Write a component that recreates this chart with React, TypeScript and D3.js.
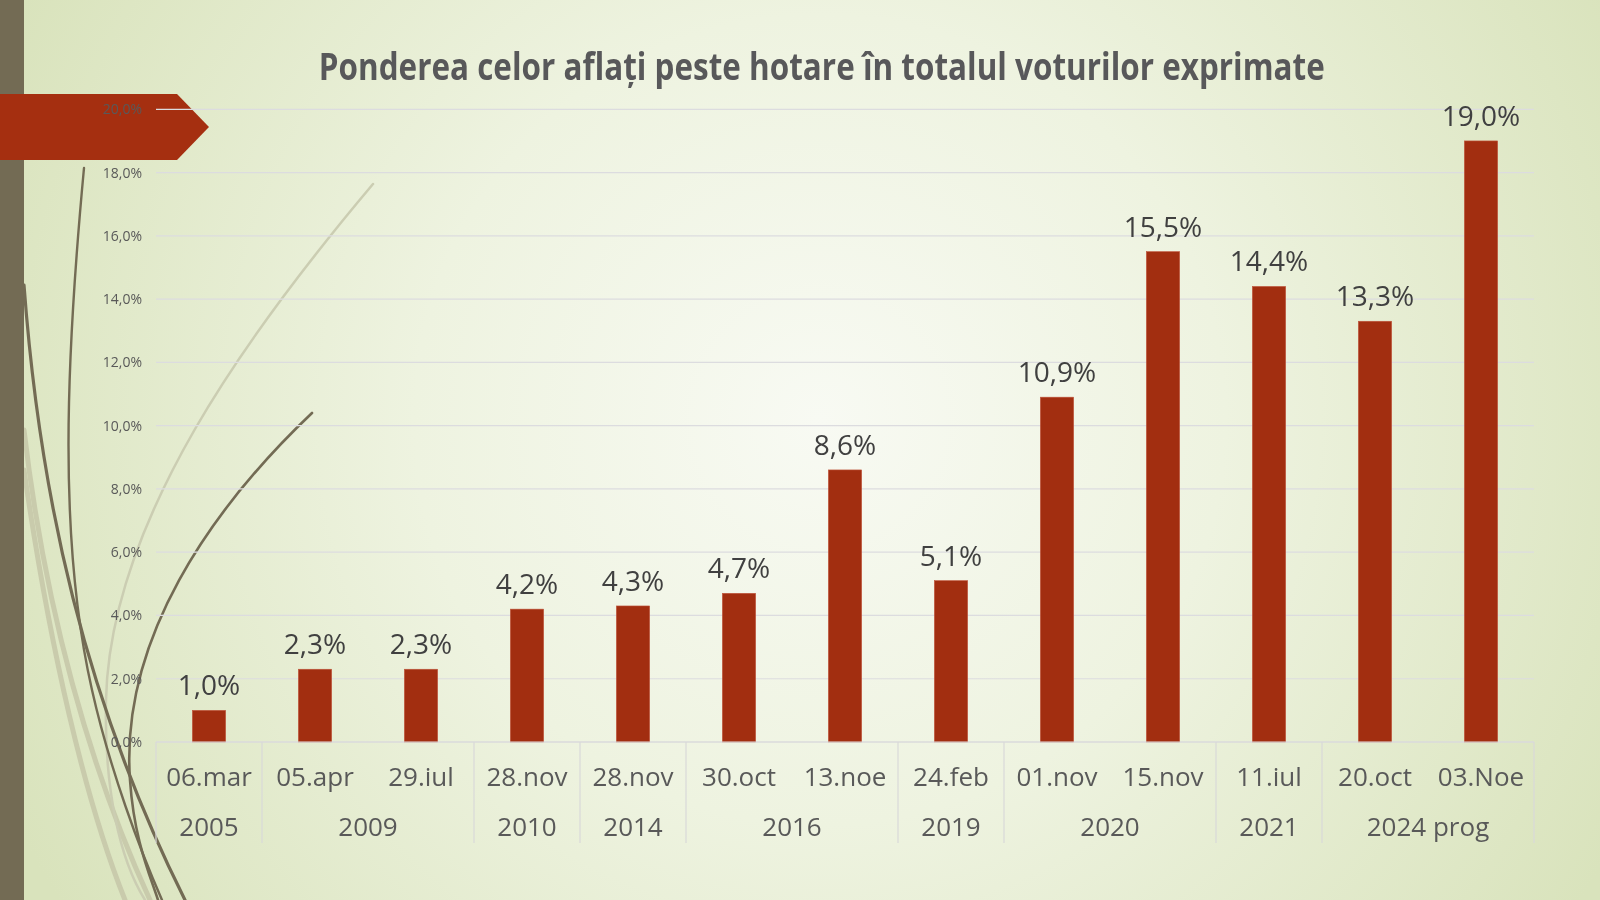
import React from "react";
import * as d3 from "d3";

const TITLE = "Ponderea celor aflați peste hotare în totalul voturilor exprimate";
const dates = ["06.mar", "05.apr", "29.iul", "28.nov", "28.nov", "30.oct", "13.noe", "24.feb", "01.nov", "15.nov", "11.iul", "20.oct", "03.Noe"];
const years = ["2005", "2009", "2009", "2010", "2014", "2016", "2016", "2019", "2020", "2020", "2021", "2024 prog", "2024 prog"];
const values = [1.0, 2.3, 2.3, 4.2, 4.3, 4.7, 8.6, 5.1, 10.9, 15.5, 14.4, 13.3, 19.0];
const yTicks = [0, 2, 4, 6, 8, 10, 12, 14, 16, 18, 20];

const W = 1600;
const H = 900;
const X0 = 156;
const X1 = 1534;
const Y0 = 742;
const Y1 = 109.3;
const FONT = "'Open Sans', 'DejaVu Sans', sans-serif";

const fmt = (v: number) => v.toFixed(1).replace(".", ",") + "%";

export default function App() {
  const idx = dates.map((_, i) => String(i));
  const band = d3.scaleBand<string>().domain(idx).range([X0, X1]).paddingInner(0.686).paddingOuter(0.343);
  const cat = d3.scaleBand<string>().domain(idx).range([X0, X1]).padding(0);
  const y = d3.scaleLinear().domain([0, 20]).range([Y0, Y1]);

  // year groups
  const groups: { name: string; start: number; end: number }[] = [];
  years.forEach((yr, i) => {
    const last = groups[groups.length - 1];
    if (last && last.name === yr) last.end = i;
    else groups.push({ name: yr, start: i, end: i });
  });
  const step = cat.step();
  const boundaries = [X0, ...groups.map((g) => (cat(String(g.end)) as number) + step)];

  const arrowPts = "0,94 177,94 209,127 177,160 0,160";

  return (
    <svg width={W} height={H} style={{ position: "fixed", left: 0, top: 0, display: "block" }}>
      <defs>
        <radialGradient id="bg" gradientUnits="userSpaceOnUse" cx={820} cy={420} r={900}>
          <stop offset="0" stopColor="#f8faf3" />
          <stop offset="0.45" stopColor="#eef3e0" />
          <stop offset="1" stopColor="#d9e3bc" />
        </radialGradient>
      </defs>
      <rect x={0} y={0} width={W} height={H} fill="url(#bg)" />

      {/* decorative curves */}
      <g fill="none" strokeLinecap="round">
        <path d="M24,470 C50,650 85,800 125,900" stroke="#c9cbac" strokeWidth={5} />
        <path d="M24,430 C45,610 90,770 150,900" stroke="#c9cbac" strokeWidth={5} />
        <path d="M373,184 C250,330 110,520 106,700 C104,790 120,860 145,900" stroke="#cbcdb2" strokeWidth={2.5} />
        <path d="M84,168 C66,360 58,540 92,690 C110,770 140,850 162,900" stroke="#736b54" strokeWidth={2.4} />
        <path d="M24,285 C40,500 85,700 185,900" stroke="#736b54" strokeWidth={3.2} />
        <path d="M312,413 C210,510 120,640 130,780 C134,840 150,875 158,900" stroke="#736b54" strokeWidth={2.6} />
      </g>
      <rect x={0} y={0} width={24} height={H} fill="#736b54" />
      <polygon points={arrowPts} fill="#a52f10" />

      {/* title */}
      <text
        x={821.8}
        y={80}
        textAnchor="middle"
        fontFamily={FONT}
        fontWeight="bold"
        fontSize={38}
        fill="#58585a"
        textLength={1006}
        lengthAdjust="spacingAndGlyphs"
      >
        {TITLE}
      </text>

      {/* gridlines */}
      <g>
        {yTicks.map((t) => (
          <line key={t} x1={X0} x2={X1} y1={y(t)} y2={y(t)} stroke="#dcdcdf" strokeWidth={1.2} />
        ))}
      </g>
      {/* y tick labels */}
      <g fontFamily={FONT} fontSize={14} fill="#595959" textAnchor="end">
        {yTicks.map((t) => (
          <text key={t} x={142} y={y(t) + 5}>
            {fmt(t)}
          </text>
        ))}
      </g>

      {/* bars */}
      <g>
        {values.map((v, i) => (
          <rect
            key={i}
            x={band(String(i))}
            y={y(v)}
            width={band.bandwidth()}
            height={Y0 - y(v)}
            fill="#a22e10"
            stroke="#c0553c"
            strokeWidth={0.6}
          />
        ))}
      </g>
      {/* data labels */}
      <g fontFamily={FONT} fontSize={28} fill="#404040" textAnchor="middle">
        {values.map((v, i) => (
          <text key={i} x={(band(String(i)) as number) + band.bandwidth() / 2} y={y(v) - 15}>
            {fmt(v)}
          </text>
        ))}
      </g>

      {/* category axis */}
      <line x1={X0} x2={X1} y1={Y0} y2={Y0} stroke="#d9d9d9" strokeWidth={1.2} />
      {boundaries.map((bx, i) => (
        <line key={i} x1={bx} x2={bx} y1={Y0} y2={843} stroke="#d9d9d9" strokeWidth={1.2} />
      ))}
      <g fontFamily={FONT} fontSize={26} fill="#595959" textAnchor="middle">
        {dates.map((d, i) => (
          <text key={i} x={(cat(String(i)) as number) + step / 2} y={786}>
            {d}
          </text>
        ))}
        {groups.map((g, i) => (
          <text key={"g" + i} x={((cat(String(g.start)) as number) + (cat(String(g.end)) as number) + step) / 2} y={836}>
            {g.name}
          </text>
        ))}
      </g>
    </svg>
  );
}
